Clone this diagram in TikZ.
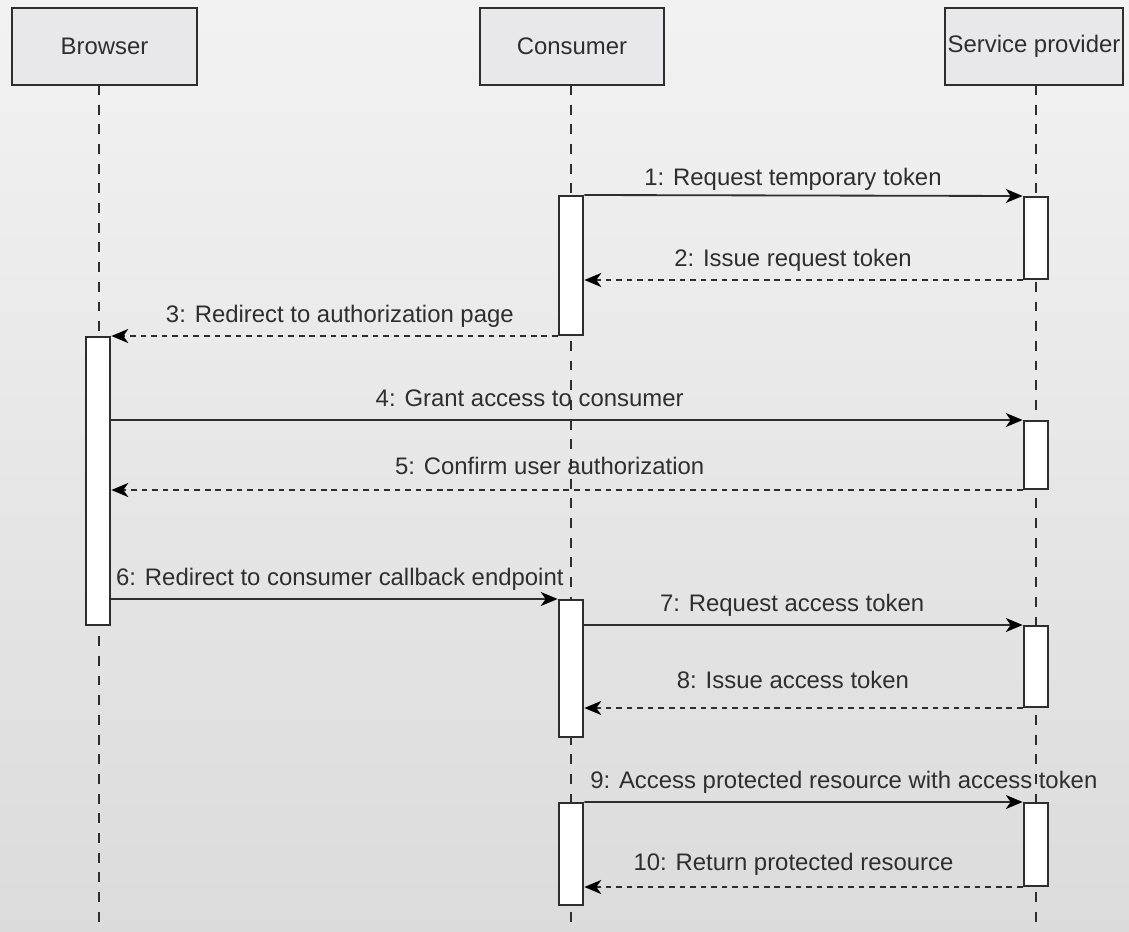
\documentclass[tikz,border=0pt]{standalone}
\usepackage{fontspec}
\setmainfont{Liberation Sans}
\usepackage{tikz}
\usetikzlibrary{arrows.meta,calc}

\definecolor{linegray}{HTML}{2E2E2E}
\definecolor{headfill}{HTML}{E8E8EA}

\tikzset{
  actor/.style={draw=linegray, line width=1.4pt, fill=headfill, inner sep=0pt,
    font=\fontsize{17}{20}\selectfont, text=linegray},
  act/.style={draw=linegray, line width=1.4pt, fill=white, inner sep=0pt,
    minimum width=0.62cm},
  lifeline/.style={linegray, line width=1.1pt, dash pattern=on 7pt off 7pt},
  call/.style={linegray, line width=1.3pt,
    -{Stealth[length=12pt,width=10pt,inset=3.5pt,black]}},
  reply/.style={call, dash pattern=on 4pt off 3.5pt},
  lbl/.style={font=\fontsize{17}{20}\selectfont, text=linegray, anchor=base,
    yshift=0.34cm, inner sep=0pt}
}

\begin{document}
\begin{tikzpicture}[x=0.025cm, y=-0.025cm]
  \useasboundingbox (0,0) rectangle (1129,932);
  \shade[top color=black!5, bottom color=black!14] (0,0) rectangle (1129,932);

  % lifelines
  \coordinate (lb) at (99,85);
  \coordinate (lc) at (571,85);
  \coordinate (ls) at (1036,85);
  \draw[lifeline] (lb) -- ++(0,847);
  \draw[lifeline] (lc) -- ++(0,847);
  \draw[lifeline] (ls) -- ++(0,847);

  % participants
  \node[actor, minimum width=4.625cm, minimum height=1.925cm] (browser) at (104.5,46.5) {Browser};
  \node[actor, minimum width=4.6cm, minimum height=1.925cm] (consumer) at (572,46.5) {Consumer};
  \node[actor, minimum width=4.45cm, minimum height=1.925cm] (provider) at (1034,46.5) {Service provider};

  % activations
  \node[act, minimum height=3.475cm] (c1) at (571,265.5) {};
  \node[act, minimum height=2.05cm] (s1) at (1036,238) {};
  \node[act, minimum height=7.2cm] (b1) at (98,481) {};
  \node[act, minimum height=1.7cm] (s2) at (1036,455) {};
  \node[act, minimum height=3.425cm] (c2) at (571,668.5) {};
  \node[act, minimum height=2.025cm] (s3) at (1036,666.5) {};
  \node[act, minimum height=2.55cm] (c3) at (571,854) {};
  \node[act, minimum height=2.075cm] (s4) at (1036,844.5) {};

  % messages
  \draw[call] (c1.north east) -- (s1.north west)
    node[lbl, pos=0.476, yshift=-0.1cm] {1: Request temporary token};
  \draw[reply] (s1.south west) -- (s1.south west -| c1.east)
    node[lbl, pos=0.524] {2: Issue request token};
  \draw[reply] (c1.south west) -- (c1.south west -| b1.east)
    node[lbl, pos=0.488] {3: Redirect to authorization page};
  \draw[call] (s2.north west -| b1.east) -- (s2.north west)
    node[lbl, pos=0.459] {4: Grant access to consumer};
  \draw[reply] (s2.south west) -- (s2.south west -| b1.east)
    node[lbl, pos=0.519, yshift=0.05cm] {5: Confirm user authorization};
  \draw[call] (c2.north west -| b1.east) -- (c2.north west)
    node[lbl, pos=0.512] {6: Redirect to consumer callback endpoint};
  \draw[call] (s3.north west -| c2.east) -- (s3.north west)
    node[lbl, pos=0.474] {7: Request access token};
  \draw[reply] (s3.south west) -- (s3.south west -| c2.east)
    node[lbl, pos=0.524, yshift=0.15cm] {8: Issue access token};
  \draw[call] (c3.north east) -- (s4.north west)
    node[lbl, pos=0.592] {9: Access protected resource with access token};
  \draw[reply] (s4.south west) -- (s4.south west -| c3.east)
    node[lbl, pos=0.523, yshift=0.07cm] {10: Return protected resource};
\end{tikzpicture}
\end{document}
